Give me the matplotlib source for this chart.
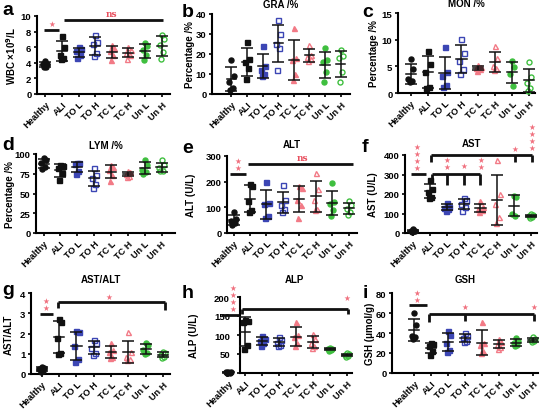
import numpy as np
import matplotlib.pyplot as plt

plt.rcParams['font.family'] = ['Liberation Sans', 'DejaVu Sans']
plt.rcParams['font.weight'] = 'bold'

groups = ['Healthy', 'ALI', 'TO L', 'TO H', 'TC L', 'TC H', 'Un L', 'Un H']

# values, one list per group
wbc = [[4.2, 3.9, 3.8, 3.5, 3.4], [7.5, 6.0, 5.0, 4.6, 4.5], [6.0, 5.8, 5.5, 5.0, 4.6],
       [7.6, 6.7, 6.4, 5.2, 4.9], [6.3, 5.9, 5.5, 5.0, 4.4], [6.0, 5.6, 5.3, 5.0, 4.5],
       [6.5, 6.2, 5.6, 5.0, 4.3], [7.6, 7.1, 6.3, 5.4, 4.5]]
gra = [[17, 9, 6, 3, 2], [26, 17.5, 16, 13, 7.5], [24, 14, 12, 10, 9],
       [37, 30, 25, 23, 12], [33, 18, 17, 10, 7], [24.5, 19.5, 18.5, 17.5, 16.5],
       [23, 17, 16, 11, 6], [22, 19, 18, 11, 6]]
mon = [[6.4, 4.5, 2.6, 2.3, 2.0], [7.9, 5.5, 4.0, 1.2, 1.0], [8.7, 4.0, 3.2, 1.5, 1.2],
       [10.2, 7.5, 6.0, 4.5, 3.5], [5.2, 4.9, 4.7, 4.5, 4.2], [8.8, 6.5, 5.0, 4.6, 4.3],
       [6.0, 4.8, 3.5, 1.4], [5.8, 3.0, 1.8, 0.9, 0.4]]
lym = [[95, 92, 88, 83, 81], [86, 85, 82, 76, 67], [89, 88, 87, 78, 75],
       [82, 74, 70, 62, 57], [86, 83, 80, 74, 66], [78, 77, 75, 72, 71],
       [93, 86, 80, 77, 75], [92, 86, 82, 79, 78]]
alt = [[80, 55, 45, 38, 32], [192, 185, 125, 88, 80], [200, 118, 112, 68, 60],
       [186, 128, 110, 92, 80], [185, 175, 130, 110, 60], [235, 170, 130, 95, 88],
       [195, 120, 112, 88, 68], [125, 108, 95, 80, 72]]
ast = [[18, 12, 10, 8, 6], [272, 228, 212, 185, 178], [155, 135, 130, 125, 112],
       [182, 168, 150, 132, 115], [162, 135, 125, 118, 110], [375, 200, 150, 80, 50],
       [192, 185, 100, 85], [95, 90, 86, 82, 78]]
ast_alt = [[0.35, 0.3, 0.25, 0.15, 0.1], [2.7, 2.55, 1.8, 1.05, 1.0], [2.1, 2.05, 1.4, 0.75, 0.6],
           [1.7, 1.55, 1.3, 1.05, 0.95], [1.55, 1.2, 1.1, 0.85, 0.8], [2.05, 1.1, 0.85, 0.75, 0.7],
           [1.55, 1.45, 1.2, 1.05, 1.0], [1.1, 1.05, 0.95, 0.85, 0.8]]
alp = [[3, 2, 1.5, 1, 0.5], [140, 137, 133, 73, 63], [97, 90, 85, 78, 72],
       [94, 88, 80, 74, 70], [135, 100, 95, 78, 70], [102, 90, 80, 70, 66],
       [66, 64, 62, 60, 59], [52, 50, 48, 45, 43]]
gsh = [[60, 48, 37, 36, 34], [30, 29, 27, 22, 18], [42, 38, 30, 23, 21],
       [40, 37, 35, 32, 31], [51, 30, 28, 22, 20], [34, 31, 28, 26, 24],
       [35, 32, 30, 28, 27], [36, 34, 33, 32, 31]]

BLACK, BLUE, PINK, GREEN = '#111111', '#3c46b4', '#f27a86', '#3fbf3f'
STAR = '#f0707e'
styles = [(BLACK, 'o', True), (BLACK, 's', True), (BLUE, 's', True), (BLUE, 's', False),
          (PINK, '^', True), (PINK, '^', False), (GREEN, 'o', True), (GREEN, 'o', False)]
JITTER = [0.0, 0.13, -0.13, 0.07, -0.07, 0.0]

W, H = 545, 410
fig = plt.figure(figsize=(W / 100, H / 100), dpi=100)

# box = (left px, right px, top px, bottom px)
panels = [
    dict(data=wbc, top=10, ticks=[0, 2, 4, 6, 8, 10], ylabel=r'WBC ×10$^{\mathbf{9}}$/L', title='', letter='a',
         box=(37, 170, 17, 95), xlim=(-0.5, 7.5), lab=(11, 2, 15),
         lines=[(-0.05, 0.85, 8.2), (1.1, 7.1, 9.55)], drops=[], stars=[(0.4, 8.45, 1)], ns=[(4.0, 9.75)]),
    dict(data=gra, top=40, ticks=[0, 10, 20, 30, 40], ylabel='Percentage /%', title='GRA /%', letter='b',
         box=(212, 350, 15, 95), xlim=(-1.25, 7.6), lab=(190, 182, 17),
         lines=[], drops=[], stars=[], ns=[]),
    dict(data=mon, top=15, ticks=[0, 5, 10, 15], ylabel='Percentage /%', title='MON /%', letter='c',
         box=(398, 535, 14, 94), xlim=(-0.75, 7.35), lab=(374, 362, 17),
         lines=[], drops=[], stars=[], ns=[]),
    dict(data=lym, top=100, ticks=[0, 25, 50, 75, 100], ylabel='Percentage /%', title='LYM /%', letter='d',
         box=(36, 175, 155, 234), xlim=(-0.45, 7.8), lab=(10, 2, 150),
         lines=[], drops=[], stars=[], ns=[]),
    dict(data=alt, top=300, ticks=[0, 100, 200, 300], ylabel='ALT (U/L)', title='ALT', letter='e',
         box=(227, 357, 157, 234), xlim=(-0.4, 7.5), lab=(191, 182, 153),
         lines=[(-0.2, 0.75, 231), (0.9, 7.25, 268)], drops=[], stars=[(0.27, 236, 2)], ns=[(4.2, 276)]),
    dict(data=ast, top=400, ticks=[0, 100, 200, 300, 400], ylabel='AST (U/L)', title='AST', letter='f',
         box=(405, 537, 156, 234), xlim=(-0.47, 7.35), lab=(373, 362, 152),
         lines=[(-0.1, 0.8, 304), (1.08, 7.06, 400), (1.1, 4.0, 304)],
         drops=[(1.08, 400, 362), (6.05, 400, 362), (7.06, 400, 362),
                (1.1, 304, 277), (2.0, 304, 245), (3.0, 304, 245), (4.0, 304, 245)],
         stars=[(0.25, 314, 4), (2.0, 318, 2), (3.0, 322, 1), (4.0, 318, 2), (6.05, 412, 1), (7.06, 415, 4)],
         ns=[]),
    dict(data=ast_alt, top=4, ticks=[0, 1, 2, 3, 4], ylabel='AST/ALT', title='AST/ALT', letter='g',
         box=(31, 170, 294, 375), xlim=(-0.62, 7.4), lab=(9, 2, 295),
         lines=[(-0.12, 0.65, 2.98), (0.95, 7.1, 3.55)],
         drops=[(0.95, 3.55, 3.26), (7.1, 3.55, 3.15)],
         stars=[(0.27, 3.08, 2), (3.9, 3.62, 1)], ns=[]),
    dict(data=alp, top=200, ticks=[0, 50, 100, 150, 200], ylabel='ALP (U/L)', title='ALP', letter='h',
         box=(220, 352, 298, 374), xlim=(-0.5, 7.3), lab=(194, 182, 298), spine=0.7,
         lines=[(-0.47, 0.7, 153), (0.8, 7.08, 169)],
         drops=[(0.8, 169, 156), (7.08, 169, 156)],
         stars=[(0.25, 158, 4), (7.0, 188, 1)], ns=[]),
    dict(data=gsh, top=80, ticks=[0, 20, 40, 60, 80], ylabel='GSH (μmol/g)', title='GSH', letter='i',
         box=(392, 538, 294, 374), xlim=(-1.3, 7.3), lab=(370, 363, 298),
         lines=[(-0.31, 0.76, 68), (0.85, 7.05, 59)],
         drops=[(0.85, 59, 51), (3.0, 59, 52.5), (7.05, 59, 52.5)],
         stars=[(0.17, 69, 2), (3.0, 62, 1), (7.05, 62, 1)], ns=[]),
]

for p in panels:
    x0, x1, yt, yb = p['box']
    ax = fig.add_axes([x0 / W, 1 - yb / H, (x1 - x0) / W, (yb - yt) / H])
    ax.set_xlim(*p['xlim'])
    ax.set_ylim(0, p['top'])

    for i, vals in enumerate(p['data']):
        color, mk, filled = styles[i]
        vals = np.array(vals, dtype=float)
        xs = i + np.array(JITTER[:len(vals)])
        ax.plot(xs, vals, mk, ls='none', color=color, ms=3.6, mew=1.0,
                mfc=color if filled else 'none', mec=color, clip_on=False, zorder=3)
        m, sd = vals.mean(), vals.std(ddof=1)
        ax.plot([i - 0.3, i + 0.3], [m, m], color=BLACK, lw=1.1, zorder=4)
        ax.errorbar(i, m, yerr=sd, color=BLACK, lw=1.1, capsize=4.5, capthick=1.1, zorder=4)

    for a, b, y in p['lines']:
        ax.plot([a, b], [y, y], color=BLACK, lw=2, clip_on=False, solid_capstyle='butt')
    for x, ya, yb2 in p['drops']:
        ax.plot([x, x], [ya, yb2], color=BLACK, lw=2, clip_on=False, solid_capstyle='butt')
    for x, y, n in p['stars']:
        ax.text(x, y, '\n'.join(['★'] * n), color=STAR, fontsize=5.5, ha='center', va='bottom',
                linespacing=0.72, family='DejaVu Sans')
    for x, y in p['ns']:
        ax.text(x, y, 'ns', color='#e8505f', family='DejaVu Serif', fontsize=6.5, weight='bold',
                ha='center', va='bottom')

    for s in ['top', 'right']:
        ax.spines[s].set_visible(False)
    for s in ['left', 'bottom']:
        ax.spines[s].set_linewidth(1.5)
    ypad = 1.5
    if 'spine' in p:
        ax.spines['left'].set_position(('data', p['spine']))
        ax.spines['bottom'].set_bounds(p['spine'], p['xlim'][1])
        ypad = 5

    ax.set_yticks(p['ticks'])
    ax.set_xticks(range(len(groups)))
    ax.set_xticklabels(groups, rotation=45, ha='right', rotation_mode='anchor')
    ax.tick_params(axis='both', width=1.2, length=2.5, pad=1.5)
    ax.tick_params(axis='x', labelsize=6.6)
    ax.tick_params(axis='y', labelsize=6.8, pad=ypad)
    for lbl in ax.get_xticklabels() + ax.get_yticklabels():
        lbl.set_fontweight('bold')

    lx, letx, lety = p['lab']
    yc = (yt + yb) / 2
    fig.text(lx / W, 1 - yc / H, p['ylabel'], rotation=90, ha='center', va='center', fontsize=7)
    fig.text(letx / W, 1 - lety / H, p['letter'], fontsize=14, weight='bold', ha='left', va='baseline')
    if p['title']:
        cx = (x0 + x1) / 2 if 'spine' not in p else (x0 + x1) / 2 + 8
        ty = {'b': 8, 'c': 7, 'd': 149, 'e': 148, 'f': 147, 'g': 283, 'h': 283, 'i': 283}[p['letter']]
        fig.text(cx / W, 1 - ty / H, p['title'], fontsize=7, weight='bold', ha='center', va='baseline')

fig.savefig('out.png', dpi=100)
